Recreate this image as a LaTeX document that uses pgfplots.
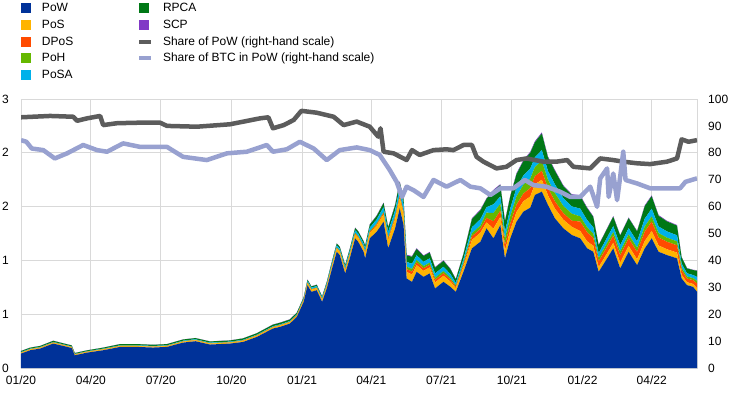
\documentclass[border=0pt]{standalone}
\usepackage{pgfplots}
\usepackage{pgfplotstable}
\pgfplotsset{compat=1.18}
\usepackage{fontspec}
\setmainfont{Liberation Sans}
\definecolor{cPoW}{HTML}{003299}
\definecolor{cPoS}{HTML}{FFB400}
\definecolor{cDPoS}{HTML}{FF4B00}
\definecolor{cPoH}{HTML}{65B800}
\definecolor{cPoSA}{HTML}{00B1EA}
\definecolor{cRPCA}{HTML}{007816}
\definecolor{cSCP}{HTML}{8139C6}
\definecolor{cDark}{HTML}{5C5C5C}
\definecolor{cLight}{HTML}{98A1D0}
\definecolor{cGrid}{HTML}{D9D9D9}
\pgfplotsset{
  sqimg/.style={legend image code/.code={\fill[##1] (0pt,-5pt) rectangle (10pt,5pt);}},
  lnimg/.style={legend image code/.code={\draw[##1, line width=4pt] (0pt,0pt) -- (12pt,0pt);}},
}
\pgfplotstableread{
d pow pos dpos poh posa rpca scp
0 0.134 0.008 0.002 0.001 0.004 0.009 0.001
12 0.165 0.008 0.002 0.001 0.004 0.009 0.001
25 0.181 0.008 0.002 0.001 0.004 0.009 0.001
42 0.227 0.008 0.002 0.001 0.004 0.011 0.001
55 0.205 0.008 0.002 0.001 0.004 0.009 0.001
66 0.186 0.008 0.002 0.001 0.004 0.009 0.001
70 0.118 0.007 0.002 0.001 0.003 0.008 0.001
86 0.143 0.007 0.002 0.001 0.003 0.008 0.001
107 0.165 0.008 0.002 0.001 0.004 0.009 0.001
129 0.196 0.008 0.002 0.001 0.004 0.011 0.001
151 0.196 0.008 0.002 0.001 0.004 0.011 0.001
172 0.190 0.008 0.002 0.001 0.004 0.011 0.001
190 0.196 0.008 0.002 0.001 0.004 0.011 0.001
211 0.236 0.009 0.002 0.002 0.005 0.011 0.001
227 0.249 0.009 0.002 0.002 0.005 0.011 0.001
246 0.218 0.009 0.002 0.002 0.005 0.011 0.001
272 0.227 0.009 0.002 0.002 0.005 0.011 0.001
289 0.242 0.010 0.003 0.002 0.005 0.013 0.001
307 0.289 0.011 0.003 0.002 0.005 0.013 0.001
328 0.367 0.011 0.003 0.002 0.006 0.014 0.002
337 0.382 0.012 0.003 0.002 0.006 0.015 0.002
350 0.413 0.012 0.003 0.002 0.006 0.015 0.002
359 0.475 0.012 0.003 0.002 0.006 0.015 0.002
368 0.615 0.017 0.004 0.002 0.011 0.009 0.001
373 0.770 0.019 0.004 0.003 0.013 0.011 0.002
378 0.708 0.019 0.004 0.003 0.013 0.011 0.002
385 0.723 0.019 0.004 0.003 0.013 0.011 0.002
392 0.615 0.019 0.004 0.003 0.013 0.011 0.002
398 0.739 0.023 0.005 0.003 0.015 0.013 0.002
405 0.926 0.027 0.006 0.004 0.018 0.015 0.002
411 1.080 0.030 0.006 0.004 0.020 0.017 0.002
415 1.049 0.030 0.006 0.004 0.020 0.017 0.002
422 0.879 0.030 0.006 0.004 0.020 0.017 0.002
428 1.019 0.034 0.007 0.005 0.023 0.019 0.003
435 1.205 0.038 0.008 0.005 0.025 0.021 0.003
439 1.173 0.038 0.008 0.005 0.025 0.021 0.003
446 1.080 0.038 0.008 0.005 0.025 0.021 0.003
448 1.019 0.046 0.010 0.006 0.030 0.025 0.004
454 1.205 0.049 0.010 0.007 0.033 0.027 0.004
463 1.266 0.057 0.012 0.008 0.038 0.032 0.005
472 1.359 0.068 0.014 0.009 0.045 0.038 0.005
478 1.112 0.076 0.016 0.010 0.050 0.042 0.006
487 1.298 0.084 0.018 0.011 0.055 0.046 0.007
493 1.484 0.095 0.020 0.013 0.063 0.053 0.008
498 1.329 0.095 0.020 0.013 0.063 0.053 0.008
502 0.832 0.062 0.026 0.022 0.044 0.059 0.007
509 0.801 0.067 0.029 0.024 0.048 0.065 0.007
515 0.894 0.062 0.026 0.022 0.044 0.059 0.007
524 0.847 0.056 0.024 0.020 0.040 0.054 0.006
532 0.879 0.056 0.024 0.020 0.040 0.054 0.006
539 0.739 0.056 0.024 0.020 0.040 0.054 0.006
550 0.801 0.056 0.024 0.020 0.040 0.054 0.006
559 0.754 0.048 0.020 0.017 0.034 0.046 0.005
566 0.708 0.034 0.014 0.012 0.024 0.032 0.004
576 0.894 0.048 0.020 0.017 0.034 0.046 0.005
587 1.112 0.078 0.034 0.028 0.056 0.076 0.008
598 1.173 0.084 0.036 0.030 0.060 0.081 0.009
606 1.298 0.056 0.042 0.048 0.050 0.078 0.006
615 1.205 0.090 0.068 0.077 0.081 0.126 0.009
624 1.329 0.076 0.057 0.065 0.068 0.106 0.008
630 1.019 0.070 0.053 0.060 0.063 0.098 0.007
637 1.205 0.080 0.060 0.068 0.072 0.112 0.008
645 1.359 0.090 0.068 0.077 0.081 0.126 0.009
654 1.453 0.096 0.072 0.082 0.086 0.134 0.010
663 1.490 0.104 0.078 0.088 0.094 0.146 0.010
669 1.608 0.100 0.075 0.085 0.090 0.140 0.010
678 1.639 0.110 0.083 0.094 0.099 0.154 0.011
686 1.515 0.090 0.068 0.077 0.081 0.126 0.009
695 1.391 0.090 0.068 0.077 0.081 0.126 0.009
706 1.298 0.080 0.060 0.068 0.072 0.112 0.008
717 1.236 0.076 0.057 0.065 0.068 0.106 0.008
728 1.205 0.068 0.088 0.048 0.072 0.116 0.008
737 1.112 0.065 0.084 0.046 0.068 0.110 0.008
745 1.080 0.056 0.073 0.040 0.059 0.096 0.007
752 0.894 0.043 0.055 0.030 0.045 0.073 0.005
763 1.019 0.048 0.062 0.034 0.050 0.081 0.006
771 1.112 0.051 0.066 0.036 0.054 0.087 0.006
780 0.926 0.053 0.068 0.037 0.056 0.090 0.006
791 1.080 0.054 0.070 0.038 0.058 0.093 0.006
802 0.956 0.054 0.070 0.038 0.058 0.093 0.006
812 1.112 0.068 0.088 0.048 0.072 0.116 0.008
821 1.205 0.068 0.088 0.048 0.072 0.116 0.008
830 1.080 0.058 0.075 0.041 0.061 0.099 0.007
841 1.049 0.054 0.070 0.038 0.058 0.093 0.006
854 1.019 0.053 0.068 0.037 0.056 0.090 0.006
860 0.832 0.034 0.044 0.024 0.036 0.058 0.004
867 0.770 0.027 0.035 0.019 0.029 0.046 0.003
875 0.754 0.027 0.035 0.019 0.029 0.046 0.003
880 0.708 0.034 0.044 0.024 0.036 0.058 0.004
}\stackdata
\pgfplotstableread{
d v
0 93.2
38 93.7
68 93.4
73 91.9
86 92.8
103 93.7
107 90.3
125 91.0
155 91.2
181 91.2
190 90.0
229 89.7
272 90.6
311 92.8
322 93.2
328 89.1
342 90.3
355 92.2
365 95.6
385 94.9
407 93.4
420 90.3
437 91.6
454 89.7
465 86.0
468 89.1
472 80.4
485 79.8
502 77.3
509 81.0
519 79.2
537 81.0
554 81.3
563 81.0
576 82.9
587 82.9
593 78.5
602 76.7
619 74.2
632 74.8
645 77.3
658 77.9
680 76.7
697 76.7
711 77.3
719 74.8
741 74.2
754 77.9
771 77.3
784 76.7
802 76.1
819 75.8
841 76.7
854 77.9
860 85.0
869 84.1
880 84.7
}\powshare
\pgfplotstableread{
d v
0 84.7
7 84.1
14 81.6
29 81.0
44 77.9
60 79.8
81 82.9
99 81.0
112 80.4
133 83.5
155 82.2
190 82.2
211 78.5
242 77.3
268 79.8
294 80.4
320 82.9
328 80.4
346 81.3
363 84.1
381 81.6
398 77.3
415 81.0
437 82.0
454 81.0
467 79.2
480 73.6
489 69.2
496 63.6
502 67.4
511 66.1
524 63.6
537 69.9
554 67.4
572 69.9
585 67.4
598 66.8
611 64.3
624 66.8
641 66.8
656 69.9
667 68.0
684 67.4
702 65.5
715 63.6
728 63.6
741 67.4
750 59.9
754 70.5
763 74.2
765 63.6
771 72.3
776 62.4
780 71.1
784 80.4
787 69.9
802 68.6
819 66.8
841 66.8
858 66.8
865 69.2
880 70.5
}\btcshare
\begin{document}
\begin{tikzpicture}
\useasboundingbox (-21pt,-26pt) rectangle (723pt,368pt);
\begin{axis}[
  at={(0pt,0pt)}, anchor=south west,
  scale only axis, width=676pt, height=269pt,
  xmin=0, xmax=880, ymin=0, ymax=2.5,
  stack plots=y,
  xtick={0,91,182,274,366,456,547,639,731,821},
  xticklabels={01/20,04/20,07/20,10/20,01/21,04/21,07/21,10/21,01/22,04/22},
  ytick={0,0.5,1,1.5,2,2.5},
  yticklabels={0,1,1,2,2,3},
  major tick length=0pt,
  grid=major,
  major grid style={color=cGrid, line width=0.9pt},
  axis line style={color=cGrid, line width=0.9pt},
  tick label style={font=\fontsize{12}{14}\selectfont, inner sep=0pt},
  xticklabel style={anchor=north, yshift=-8pt},
  yticklabel style={anchor=east, xshift=-12pt},
  sqimg,
  legend style={draw=none, fill=none, inner sep=0pt, outer sep=0pt,
    at={(axis description cs:0,1.368)}, anchor=north west,
    font=\fontsize{12}{14}\selectfont, column sep=11pt, row sep=0pt,
    nodes={inner sep=0pt, minimum height=16.67pt}},
  legend cell align=left,
]
\addplot[fill=cPoW, draw=none] table[x=d, y=pow] {\stackdata} \closedcycle;
\addplot[fill=cPoS, draw=none] table[x=d, y=pos] {\stackdata} \closedcycle;
\addplot[fill=cDPoS, draw=none] table[x=d, y=dpos] {\stackdata} \closedcycle;
\addplot[fill=cPoH, draw=none] table[x=d, y=poh] {\stackdata} \closedcycle;
\addplot[fill=cPoSA, draw=none] table[x=d, y=posa] {\stackdata} \closedcycle;
\addplot[fill=cRPCA, draw=none] table[x=d, y=rpca] {\stackdata} \closedcycle;
\addplot[fill=cSCP, draw=none] table[x=d, y=scp] {\stackdata} \closedcycle;
\legend{PoW,PoS,DPoS,PoH,PoSA}
\end{axis}
\begin{axis}[
  at={(0pt,0pt)}, anchor=south west,
  scale only axis, width=676pt, height=269pt,
  xmin=0, xmax=880, ymin=0, ymax=100,
  hide x axis,
  axis y line*=right,
  y axis line style={draw=none},
  ytick={0,10,20,30,40,50,60,70,80,90,100},
  yticklabels={0,10,20,30,40,50,60,70,80,90,100},
  major tick length=0pt,
  tick label style={font=\fontsize{12}{14}\selectfont, inner sep=0pt},
  yticklabel style={anchor=west, xshift=11pt},
  lnimg,
  legend style={draw=none, fill=none, inner sep=0pt, outer sep=0pt,
    at={(axis description cs:0.1716,1.368)}, anchor=north west,
    font=\fontsize{12}{14}\selectfont, column sep=10pt, row sep=0pt,
    nodes={inner sep=0pt, minimum height=16.67pt}},
  legend cell align=left,
]
\addlegendimage{sqimg, fill=cRPCA, draw=none}
\addlegendentry{RPCA}
\addlegendimage{sqimg, fill=cSCP, draw=none}
\addlegendentry{SCP}
\addplot[color=cDark, line width=4.5pt, line join=round] table[x=d, y=v] {\powshare};
\addlegendentry{Share of PoW (right-hand scale)}
\addplot[color=cLight, line width=4.5pt, line join=round] table[x=d, y=v] {\btcshare};
\addlegendentry{Share of BTC in PoW (right-hand scale)}
\end{axis}
\end{tikzpicture}
\end{document}
